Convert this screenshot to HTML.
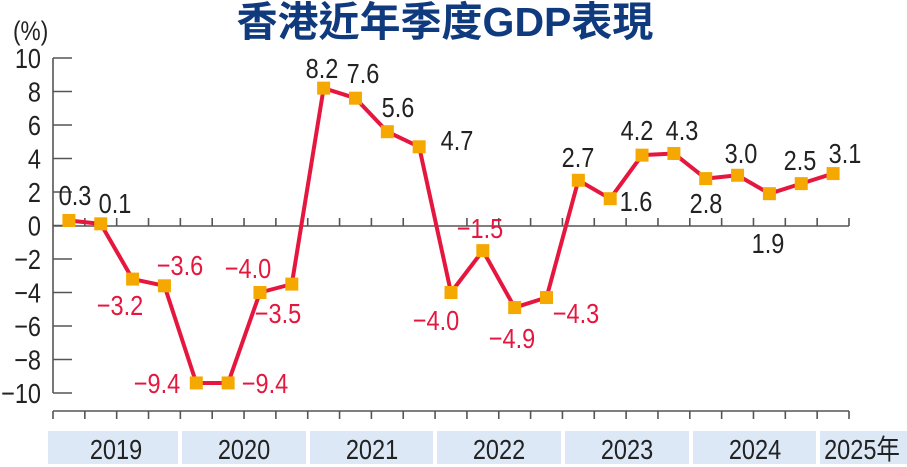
<!DOCTYPE html>
<html><head><meta charset="utf-8"><style>
html,body{margin:0;padding:0;background:#fff;}
svg{display:block;}
text{font-family:"Liberation Sans","Noto Sans CJK TC",sans-serif;}
</style></head><body>
<svg id="s" width="907" height="467" viewBox="0 0 907 467" xmlns="http://www.w3.org/2000/svg">
<text x="445" y="36" text-anchor="middle" font-size="41" font-weight="bold" fill="#0f3a7d">香港近年季度GDP表現</text>
<g stroke="#555" stroke-width="1.6" fill="none">
<line x1="53" y1="58" x2="53" y2="393"/>
<line x1="53" y1="226" x2="849" y2="226"/>
<line x1="53" y1="411" x2="849" y2="411"/>
</g>
<g stroke="#555" stroke-width="1.6" id="yt"></g>
<g stroke="#555" stroke-width="1.6" id="xt"></g>
<g fill="#dce8f6">
<rect x="48" y="431" width="130" height="33"/>
<rect x="182" y="431" width="124" height="33"/>
<rect x="310" y="431" width="123" height="33"/>
<rect x="437" y="431" width="124" height="33"/>
<rect x="565" y="431" width="124" height="33"/>
<rect x="693" y="431" width="123" height="33"/>
<rect x="820" y="431" width="87" height="33"/>
</g>
<polyline id="ln" fill="none" stroke="#e5173f" stroke-width="4" stroke-linejoin="round"/>
<g id="mk" fill="#f5a800"></g>
<g id="tx"></g>
</svg>
<script>
var ns="http://www.w3.org/2000/svg";
function el(p,t,a,txt){var e=document.createElementNS(ns,t);for(var k in a)e.setAttribute(k,a[k]);if(txt!==undefined)e.textContent=txt;document.getElementById(p).appendChild(e);return e;}
function T(x,y,s,fs,col,anchor){el("tx","text",{x:0,y:0,"font-size":fs,fill:col,"text-anchor":anchor||"middle",transform:"translate("+x+","+y+") scale(0.84,1)"},s);}
function Y(v){return 225.5-v*16.75;}
T(13,40,"(%)",27,"#222","start");
for(var v=-10;v<=10;v+=2){var y=Y(v);el("yt","line",{x1:53,y1:y,x2:72,y2:y});T(41,y+10,(v<0?"−":"")+Math.abs(v),28,"#222","end");}
for(var i=0;i<=25;i++){var x=53+31.84*i;el("xt","line",{x1:x,y1:411,x2:x,y2:419});if(i>0)el("xt","line",{x1:x,y1:226,x2:x,y2:218});}
var d=[0.3,0.1,-3.2,-3.6,-9.4,-9.4,-4.0,-3.5,8.2,7.6,5.6,4.7,-4.0,-1.5,-4.9,-4.3,2.7,1.6,4.2,4.3,2.8,3.0,1.9,2.5,3.1];
var pts=[];d.forEach(function(v,i){var x=53+31.84*(i+0.5),y=Y(v);pts.push(x+","+y);el("mk","rect",{x:x-6.5,y:y-6.5,width:13,height:13});});
document.getElementById("ln").setAttribute("points",pts.join(" "));
var K="#222",R="#e5173f";
var L=[[75,"0.3",K,195],[115,"0.1",K,203],[120,"−3.2",R,305],[180,"−3.6",R,265],[157,"−9.4",R,383],[265,"−9.4",R,383],[248,"−4.0",R,268],[278,"−3.5",R,313],
[322,"8.2",K,68],[363,"7.6",K,73],[398,"5.6",K,107],[457,"4.7",K,140],[436,"−4.0",R,320],[480,"−1.5",R,228],[512,"−4.9",R,338],[576,"−4.3",R,313],
[578,"2.7",K,157],[636,"1.6",K,201],[637,"4.2",K,130],[682,"4.3",K,130],[706,"2.8",K,203],[741,"3.0",K,153],[768,"1.9",K,243],[800,"2.5",K,160],[845,"3.1",K,153]];
L.forEach(function(a){T(a[0],a[3]+10,a[1],28,a[2]);});
[[116,"2019"],[244,"2020"],[372,"2021"],[499,"2022"],[627,"2023"],[755,"2024"],[862,"2025年"]].forEach(function(a){T(a[0],459,a[1],28,"#222");});
</script>
</body></html>
